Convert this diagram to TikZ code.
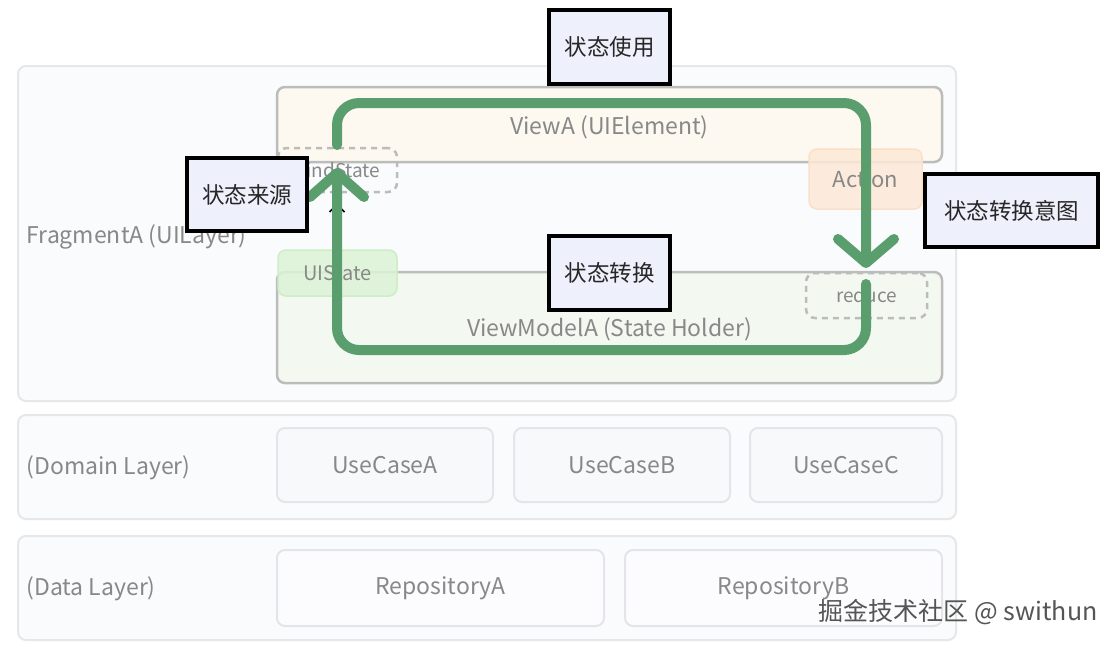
\documentclass[tikz,border=0pt]{standalone}
\usepackage{fontspec}
\setmainfont{Noto Sans CJK SC}
\usetikzlibrary{arrows.meta}
\definecolor{txtgray}{HTML}{888888}
\definecolor{layerfill}{HTML}{FAFBFC}
\definecolor{layerline}{HTML}{E6E7E9}
\definecolor{viewfill}{HTML}{FDF9F0}
\definecolor{vmfill}{HTML}{F3F9F1}
\definecolor{boxline}{HTML}{BCBCBC}
\definecolor{uifill}{HTML}{DCF3D6}
\definecolor{uiline}{HTML}{CDEEC5}
\definecolor{actfill}{HTML}{FDE9D7}
\definecolor{actline}{HTML}{FBE0C9}
\definecolor{ucfill}{HTML}{F8F9FB}
\definecolor{ucline}{HTML}{E4E5E8}
\definecolor{repofill}{HTML}{FCFBFD}
\definecolor{flowgreen}{HTML}{5A9E6E}
\definecolor{tagfill}{HTML}{EEF0FB}
\definecolor{wmgray}{HTML}{555555}
\tikzset{
  layerbox/.style={draw=layerline, fill=layerfill, line width=2pt, rounded corners=8pt},
  mainbox/.style={draw=boxline, line width=2.5pt, rounded corners=8pt},
  bigtext/.style={text=txtgray, font=\fontsize{23}{26}\selectfont},
  smallbox/.style={rounded corners=8pt, line width=1.5pt, text=txtgray, font=\fontsize{20}{23}\selectfont},
  dashbox/.style={draw=boxline, dash pattern=on 6pt off 5pt, line width=2.5pt, rounded corners=9pt, text=txtgray, font=\fontsize{19}{22}\selectfont},
  ucbox/.style={draw=ucline, line width=2pt, rounded corners=8pt, text=txtgray, font=\fontsize{23}{26}\selectfont},
  lbl/.style={text=txtgray, font=\fontsize{23}{26}\selectfont, anchor=west},
  flow/.style={draw=flowgreen, line width=10pt, rounded corners=22pt, line cap=round, line join=round},
  tag/.style={draw=black, fill=tagfill, line width=4pt, font=\fontsize{22.5}{26}\selectfont, text=black!85, inner sep=0pt},
}
\begin{document}
\begin{tikzpicture}[x=1pt, y=-1pt]
\path[use as bounding box, fill=white] (0,0) rectangle (1120,648);
% layers
\node[layerbox, minimum width=938pt, minimum height=335pt] (frag) at (487,233.5) {};
\node[layerbox, minimum width=938pt, minimum height=104pt] (dom) at (487,467) {};
\node[layerbox, minimum width=938pt, minimum height=104pt] (dat) at (487,588) {};
\node[lbl] (fragl) at (23,237) {FragmentA (UILayer)};
\node[lbl] (doml) at (23,468) {(Domain Layer)};
\node[lbl] (datl) at (23,589) {(Data Layer)};
% UI
\node[mainbox, fill=viewfill, minimum width=665pt, minimum height=75pt] (viewA) at (609.5,124.5) {};
\node[bigtext] (viewAl) at (609.5,127) {ViewA (UIElement)};
\node[mainbox, fill=vmfill, minimum width=665pt, minimum height=111pt] (vm) at (609.5,327.5) {};
\node[bigtext] (vml) at (609.5,329) {ViewModelA (State Holder)};
\node[smallbox, draw=uiline, fill=uifill, fill opacity=0.85, text opacity=1, minimum width=119pt, minimum height=46pt] (uistate) at (337.5,273) {UIState};
\node[dashbox, minimum width=119pt, minimum height=44pt] (bind) at (337.5,170) {bindState};
\node[smallbox, draw=actline, fill=actfill, fill opacity=0.85, text opacity=1, minimum width=113pt, minimum height=60pt, font=\fontsize{22}{25}\selectfont] (action) at (865.5,179) {Action};
\node[dashbox, minimum width=121pt, minimum height=45pt] (reduce) at (866.5,295.5) {reduce};
% domain / data
\node[ucbox, fill=ucfill, minimum width=216pt, minimum height=74pt] (ucA) at (385,465) {UseCaseA};
\node[ucbox, fill=ucfill, minimum width=216pt, minimum height=74pt] (ucB) at (622,465) {UseCaseB};
\node[ucbox, fill=ucfill, minimum width=192pt, minimum height=74pt] (ucC) at (846,465) {UseCaseC};
\node[ucbox, fill=repofill, minimum width=327pt, minimum height=76pt] (repoA) at (440.5,588) {RepositoryA};
\node[ucbox, fill=repofill, minimum width=317pt, minimum height=76pt] (repoB) at (783.5,588) {RepositoryB};
% flow loop
\coordinate (p1) at (337,145);
\coordinate (p2) at (337,103);
\coordinate (p3) at (866,103);
\coordinate (p4) at (866,268);
\coordinate (q1) at (866,284);
\coordinate (q2) at (866,350);
\coordinate (q3) at (337,350);
\coordinate (q4) at (337,168);
\draw[black, line width=1.6pt] (329.5,212) -- (337,204.5) -- (344.5,212);
\draw[flow, -{Straight Barb[length=24pt, width=56pt, round]}] (p1) -- (p2) -- (p3) -- (p4);
\draw[flow, -{Straight Barb[length=24pt, width=54pt, round]}] (q1) -- (q2) -- (q3) -- (q4);
% tags
\node[tag, minimum width=121pt, minimum height=74pt] (t1) at (609.5,47) {状态使用};
\node[tag, minimum width=120pt, minimum height=73pt] (t2) at (247,194.5) {状态来源};
\node[tag, minimum width=173pt, minimum height=73pt] (t3) at (1011.5,210.5) {状态转换意图};
\node[tag, minimum width=121pt, minimum height=74pt] (t4) at (609.5,273) {状态转换};
% watermark
\node[font=\fontsize{25}{28}\selectfont, text=wmgray, anchor=east] (wm) at (1101,612) {掘金技术社区 @ swithun};
\end{tikzpicture}
\end{document}
